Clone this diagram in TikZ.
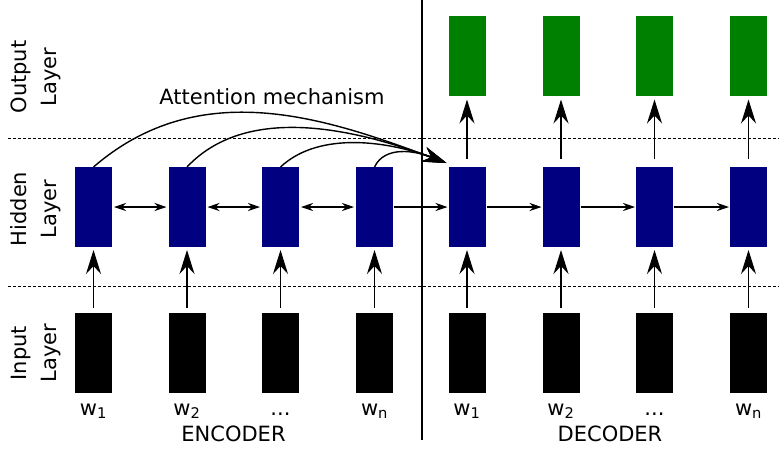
\documentclass[tikz,border=0pt]{standalone}
\usepackage{fontspec}
\setmainfont{DejaVu Sans}
\usetikzlibrary{arrows.meta,positioning,calc}

\definecolor{outgreen}{RGB}{0,128,0}
\definecolor{hidblue}{RGB}{0,0,128}

\begin{document}
\begin{tikzpicture}[x=1pt, y=-1pt, font=\fontsize{21}{30}\selectfont,
    cell/.style={minimum width=37pt, minimum height=80pt, inner sep=0pt, outer sep=0pt},
    outcell/.style={cell, fill=outgreen},
    hidcell/.style={cell, fill=hidblue},
    incell/.style={cell, fill=black},
    layerlab/.style={rotate=90, align=center, inner sep=0pt},
    word/.style={anchor=base, inner sep=0pt},
    sepline/.style={line width=0.9pt, dash pattern=on 3pt off 2pt},
    uparrow/.style={line width=1.3pt, -{Stealth[length=24pt, width=15pt, inset=8pt]}},
    fwdarrow/.style={line width=1.1pt, -{Stealth[length=12pt, width=8pt, inset=4pt]}, shorten >=1pt, shorten <=1pt},
    biarrow/.style={line width=1.1pt, {Stealth[length=12pt, width=8pt, inset=4pt]}-{Stealth[length=12pt, width=8pt, inset=4pt]}, shorten >=2pt, shorten <=2pt},
    attarrow/.style={line width=1.4pt, -{Stealth[length=24pt, width=15pt, inset=8pt]}}]

    \useasboundingbox (0,0) rectangle (779,448);

    % Layer separators
    \draw[sepline] (8,138) -- (779,138);
    \draw[sepline] (8,286) -- (779,286);
    \draw[line width=1.3pt] (422,0) -- (422,440);

    % Layer names
    \node[layerlab] (outlab) at (36,77) {Output\\Layer};
    \node[layerlab] (hidlab) at (36,209) {Hidden\\Layer};
    \node[layerlab] (inlab) at (36,353) {Input\\Layer};

    % Encoder
    \foreach \i/\x/\w in {1/93.5/{w\textsubscript{1}}, 2/187/{w\textsubscript{2}}, 3/280.5/{...}, 4/374.5/{w\textsubscript{n}}} {
        \node[hidcell] (eh\i) at (\x,207) {};
        \node[incell] (ei\i) at (\x,352.5) {};
        \node[word] (ew\i) at (\x,415) {\w};
        \draw[uparrow, shorten <=5pt, shorten >=3pt] (ei\i.north) -- (eh\i.south);
    }

    % Decoder
    \foreach \i/\x/\w in {1/467/{w\textsubscript{1}}, 2/561/{w\textsubscript{2}}, 3/654.5/{...}, 4/748.5/{w\textsubscript{n}}} {
        \node[outcell] (do\i) at (\x,55.5) {};
        \node[hidcell] (dh\i) at (\x,207) {};
        \node[incell] (di\i) at (\x,352.5) {};
        \node[word] (dw\i) at (\x,415) {\w};
        \draw[uparrow, shorten <=5pt, shorten >=3pt] (di\i.north) -- (dh\i.south);
        \draw[uparrow, shorten <=8pt, shorten >=4pt] (dh\i.north) -- (do\i.south);
    }

    \node[word] (enclab) at (233.5,441) {ENCODER};
    \node[word] (declab) at (610,441) {DECODER};

    % Recurrent links
    \foreach \i/\j in {1/2, 2/3, 3/4} {
        \draw[biarrow] (eh\i) -- (eh\j);
        \draw[fwdarrow] (dh\i) -- (dh\j);
    }
    \draw[fwdarrow] (eh4) -- (dh1);

    % Attention
    \coordinate (attn) at ($(dh1.north west)+(-2,-4)$);
    \node (attlab) at (272,97) {Attention mechanism};
    \draw[attarrow] (eh1.north) .. controls (200,75) and (326,118) .. (attn);
    \draw[attarrow] (eh2.north) .. controls (250,100) and (366,133) .. (attn);
    \draw[attarrow] (eh3.north) .. controls (320,130) and (391,142) .. (attn);
    \draw[attarrow] (eh4.north) .. controls (385,145) and (416,151) .. (attn);

\end{tikzpicture}
\end{document}
